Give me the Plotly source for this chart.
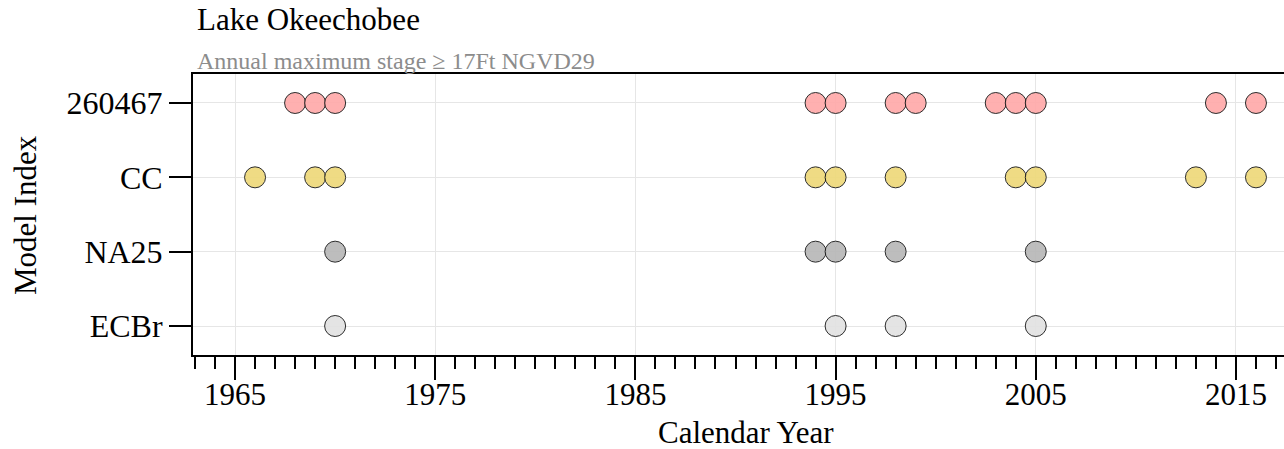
import plotly.graph_objects as go

# ---- data ----
models = ["ECBr", "NA25", "CC", "260467"]
years_260467 = [1968, 1969, 1970, 1994, 1995, 1998, 1999, 2003, 2004, 2005, 2014, 2016]
years_CC = [1966, 1969, 1970, 1994, 1995, 1998, 2004, 2005, 2013, 2016]
years_NA25 = [1970, 1994, 1995, 1998, 2005]
years_ECBr = [1970, 1995, 1998, 2005]
colors = {"260467": "#FFAAAA", "CC": "#EED97A", "NA25": "#B8B8B8", "ECBr": "#E2E2E2"}
series = {"ECBr": years_ECBr, "NA25": years_NA25, "CC": years_CC, "260467": years_260467}

W, H = 1284, 449
L, R, T, B = 193, 0, 74, 94
FONT = "Liberation Serif"

fig = go.Figure()
for m in models:
    yrs = series[m]
    fig.add_trace(go.Scatter(
        x=yrs, y=[m] * len(yrs), mode="markers",
        marker=dict(size=21, color=colors[m], opacity=0.92,
                    line=dict(color="#1a1a1a", width=1)),
        showlegend=False, hoverinfo="x+y"))

pw = W - L - R
ph = H - T - B

def px_x(p):
    return (p - L) / pw

def px_y(p):
    return (H - B - p) / ph

fig.update_layout(
    width=W, height=H,
    margin=dict(l=L, r=R, t=T, b=B),
    paper_bgcolor="white", plot_bgcolor="white",
    font=dict(family=FONT, color="black"),
    xaxis=dict(
        range=[1962.9, 2017.4], tick0=1965, dtick=10, tickmode="linear",
        showgrid=True, gridcolor="#E6E6E6", gridwidth=1,
        zeroline=False, showline=True, linecolor="black", linewidth=2,
        mirror=True, ticks="outside", ticklen=23, tickwidth=2, tickcolor="black",
        ticklabelstandoff=-12,
        tickfont=dict(family=FONT, size=31, color="black"),
        minor=dict(dtick=1, tick0=1965, ticks="outside", ticklen=12, tickwidth=2,
                   tickcolor="black", showgrid=False),
    ),
    yaxis=dict(
        categoryorder="array", categoryarray=models,
        range=[-0.39, 3.39],
        showgrid=True, gridcolor="#E6E6E6", gridwidth=1,
        zeroline=False, showline=True, linecolor="black", linewidth=2,
        mirror=False, ticks="outside", ticklen=22, tickwidth=2, tickcolor="black",
        tickfont=dict(family=FONT, size=32, color="black"),
    ),
    annotations=[
        dict(text="Lake Okeechobee", xref="paper", yref="paper",
             x=px_x(195), y=px_y(20), xanchor="left", yanchor="middle",
             showarrow=False, font=dict(family=FONT, size=31, color="black")),
        dict(text="Annual maximum stage ≥ 17Ft NGVD29", xref="paper", yref="paper",
             x=px_x(195), y=px_y(60.5), xanchor="left", yanchor="middle",
             showarrow=False, font=dict(family=FONT, size=24, color="#8C8C8C")),
        dict(text="Calendar Year", xref="paper", yref="paper",
             x=px_x(746), y=px_y(432), xanchor="center", yanchor="middle",
             showarrow=False, font=dict(family=FONT, size=31, color="black")),
        dict(text="Model Index", xref="paper", yref="paper", textangle=-90,
             x=px_x(25), y=px_y(215), xanchor="center", yanchor="middle",
             showarrow=False, font=dict(family=FONT, size=31, color="black")),
    ],
)

fig.write_html("out.html", config={"displayModeBar": False},
               post_script="document.body.style.margin='0';document.body.style.overflow='hidden';")
